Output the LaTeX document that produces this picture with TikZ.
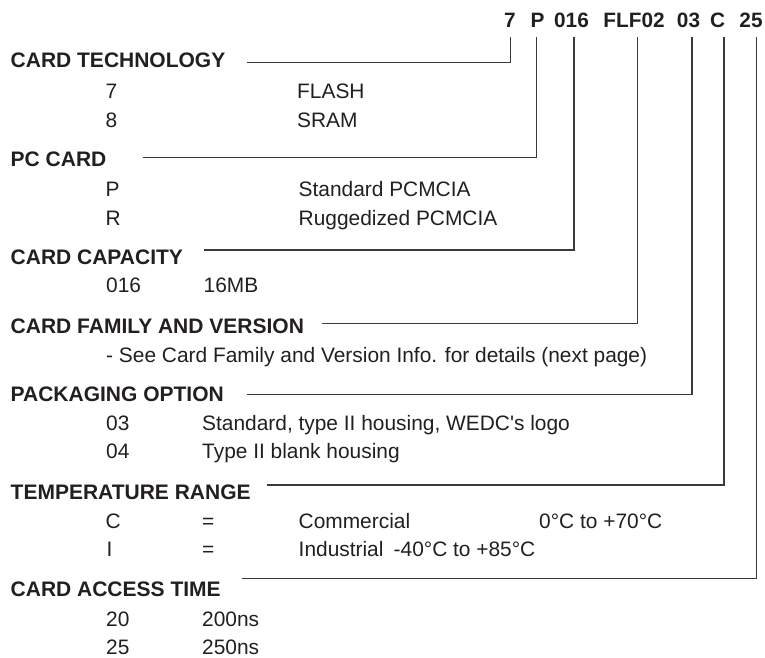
\documentclass[tikz,border=0pt]{standalone}
\usepackage{fontspec}
\setmainfont{Liberation Sans}
\definecolor{ink}{HTML}{231F20}
\definecolor{rule}{HTML}{3A3A3A}
\begin{document}
\begin{tikzpicture}[x=1pt,y=-1pt,
  txt/.style={inner sep=0pt,anchor=base west,text=ink,font=\fontsize{20.9}{22}\selectfont},
  hdr/.style={inner sep=0pt,anchor=base west,text=ink,font=\bfseries\fontsize{21}{22}\selectfont},
  code/.style={inner sep=0pt,anchor=base,text=ink,font=\bfseries\fontsize{20.8}{22}\selectfont},
  conn/.style={draw=rule,line width=1.2pt}]
\useasboundingbox (0,0) rectangle (765,657);
% code
\node[code] (c7) at (510,27) {7};
\node[code] (cP) at (537.5,27) {P};
\node[code] (c016) at (571.5,27) {016};
\node[code] (cFLF) at (634,27) {FLF02};
\node[code] (c03) at (688.5,27) {03};
\node[code] (cC) at (717.5,27) {C};
\node[code] (c25) at (751,27) {25};
% headers
\node[hdr] (h1) at (10.5,67.8) {CARD TECHNOLOGY};
\node[hdr] (h2) at (10.5,166.5) {PC CARD};
\node[hdr] (h3) at (10.5,264.8) {CARD CAPACITY};
\node[hdr] (h4) at (10.5,333.2) {CARD FAMILY AND VERSION};
\node[hdr] (h5) at (10.5,401.5) {PACKAGING OPTION};
\node[hdr] (h6) at (10.5,499.2) {TEMPERATURE RANGE};
\node[hdr] (h7) at (10.5,596.5) {CARD ACCESS TIME};
% items
\node[txt] (i71) at (105.5,98.5) {7};
\node[txt] (i72) at (297,98.5) {FLASH};
\node[txt] (i81) at (105.5,127.8) {8};
\node[txt] (i82) at (297,127.8) {SRAM};
\node[txt] (iP1) at (105.5,196) {P};
\node[txt] (iP2) at (298.5,196) {Standard PCMCIA};
\node[txt] (iR1) at (105.5,225.8) {R};
\node[txt] (iR2) at (298.5,225.8) {Ruggedized PCMCIA};
\node[txt] (i0161) at (106,292.8) {016};
\node[txt] (i0162) at (203.5,292.8) {16MB};
\node[txt] (isee) at (106,362) {- See Card Family and Version Info. for details (next page)};
\node[txt] (i031) at (106,430) {03};
\node[txt] (i032) at (202,430) {Standard, type II housing, WEDC\textquotesingle s logo};
\node[txt] (i041) at (106,458) {04};
\node[txt] (i042) at (202,458) {Type II blank housing};
\node[txt] (iC1) at (105.5,528) {C};
\node[txt] (iC2) at (202,528) {=};
\node[txt] (iC3) at (298.5,528) {Commercial};
\node[txt] (iC4) at (539,528) {0°C to +70°C};
\node[txt] (iI1) at (106.5,556.5) {I};
\node[txt] (iI2) at (202,556.5) {=};
\node[txt] (iI3) at (298.5,556.5) {Industrial};
\node[txt] (iI4) at (393.5,556.5) {-40°C to +85°C};
\node[txt] (i201) at (106,626.3) {20};
\node[txt] (i202) at (202,626.3) {200ns};
\node[txt] (i251) at (106,654) {25};
\node[txt] (i252) at (202,654) {250ns};
% connector start points and code taps
\coordinate (s1) at (246.7,62.7);
\coordinate (s2) at (143,157.3);
\coordinate (s3) at (204,250);
\coordinate (s4) at (321.7,323.3);
\coordinate (s5) at (246.7,394.3);
\coordinate (s6) at (266.7,485);
\coordinate (s7) at (241.7,578.3);
\coordinate (t7) at (510.7,36.7);
\coordinate (tP) at (536.7,36.7);
\coordinate (t016) at (574,36.7);
\coordinate (tFLF) at (637.8,36.7);
\coordinate (t03) at (692,36.7);
\coordinate (tC) at (724,36.7);
\coordinate (t25) at (756.7,36.7);
\draw[conn] (s1) -| (t7);
\draw[conn] (s2) -| (tP);
\draw[conn] (s3) -| (t016);
\draw[conn] (s4) -| (tFLF);
\draw[conn] (s5) -| (t03);
\draw[conn] (s6) -| (tC);
\draw[conn] (s7) -| (t25);
\end{tikzpicture}
\end{document}
